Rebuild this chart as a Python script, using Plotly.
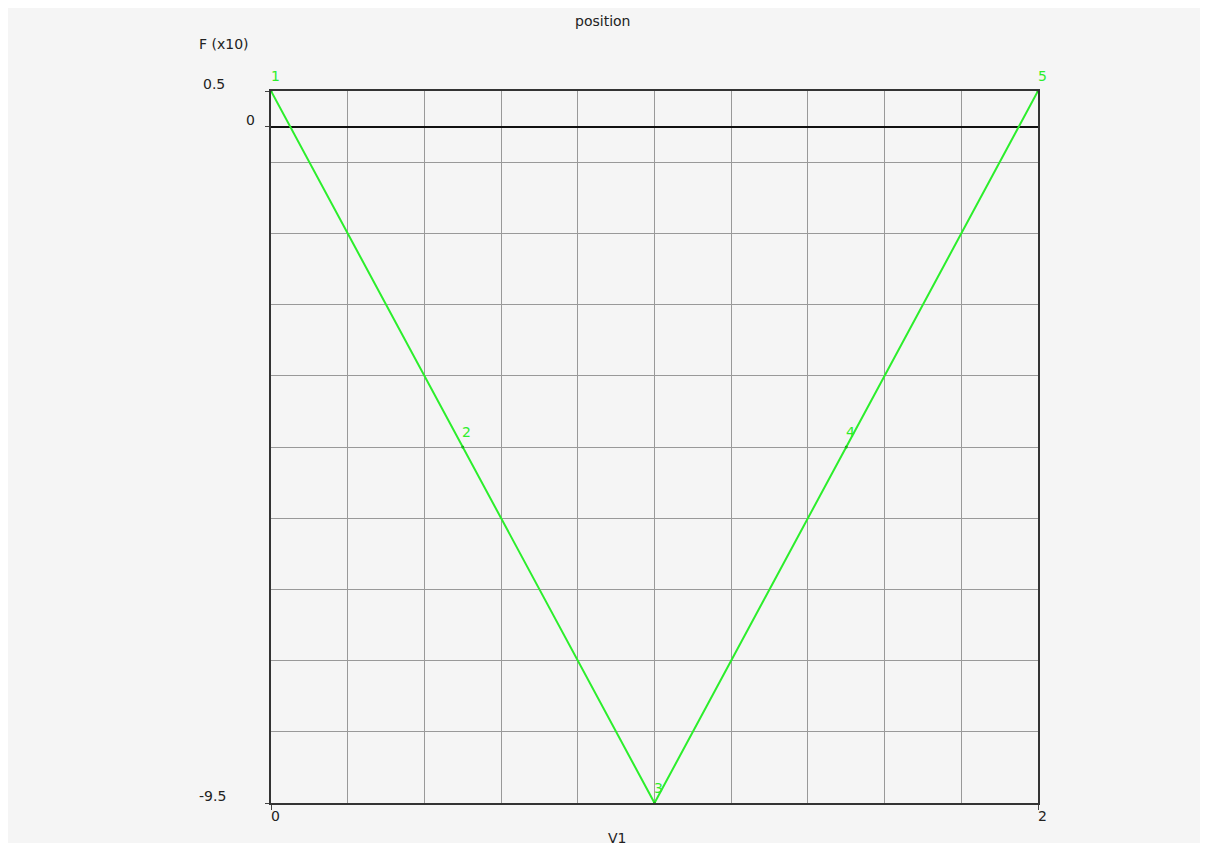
import plotly.graph_objects as go

# points of the "position" curve
v1 = [0, 0.5, 1, 1.5, 2]
force = [0.5, -4.5, -9.5, -4.5, 0.5]
point_labels = ["1", "2", "3", "4", "5"]

y_tick_vals = [0.5, 0, -9.5]
y_tick_text = ["0.5", "0", "-9.5"]
x_tick_vals = [0, 2]
x_tick_text = ["0", "2"]

GREEN = "#2cee2c"
TEXT = "#222222"
BG = "#f5f5f5"
FONT = dict(color=TEXT, size=14, family="DejaVu Sans")

fig = go.Figure()

fig.add_trace(go.Scatter(
    x=v1, y=force,
    mode="lines+markers",
    line=dict(color=GREEN, width=2),
    marker=dict(color="#18b818", size=3),
    cliponaxis=False,
    showlegend=False,
))

annotations = []
# point numbers, slightly up and right of each point
for x, y, lab in zip(v1, force, point_labels):
    annotations.append(dict(
        x=x, y=y, xref="x", yref="y", text=lab, showarrow=False,
        xanchor="center", yanchor="middle", xshift=4, yshift=15,
        font=dict(color=GREEN, size=14, family="DejaVu Sans")))

# y tick labels (shifted up / left like the original)
shifts = {"0.5": -44, "0": -14, "-9.5": -43}
for val, txt in zip(y_tick_vals, y_tick_text):
    annotations.append(dict(
        x=0, y=val, xref="x", yref="y", text=txt, showarrow=False,
        xanchor="right", yanchor="middle", xshift=shifts[txt], yshift=7,
        font=FONT))
for val, txt in zip(x_tick_vals, x_tick_text):
    annotations.append(dict(
        x=val, y=-9.5, xref="x", yref="y", text=txt, showarrow=False,
        xanchor="center", yanchor="top", xshift=4, yshift=-3,
        font=FONT))

annotations += [
    dict(x=0.432, y=1.0, xref="paper", yref="paper", text="position",
         showarrow=False, xanchor="center", yanchor="bottom", yshift=60,
         font=FONT),
    dict(x=0, y=1.0, xref="paper", yref="paper", text="F (x10)",
         showarrow=False, xanchor="center", yanchor="bottom", xshift=-47, yshift=37,
         font=FONT),
    dict(x=0.451, y=0, xref="paper", yref="paper", text="V1",
         showarrow=False, xanchor="center", yanchor="top", yshift=-25,
         font=FONT),
]

fig.update_layout(
    width=1200, height=835,
    margin=dict(l=263, r=170, t=83, b=40),
    paper_bgcolor=BG,
    plot_bgcolor=BG,
    annotations=annotations,
    xaxis=dict(
        range=[0, 2], tickvals=x_tick_vals, showticklabels=False,
        ticks="outside", ticklen=5, tickcolor="#444",
        showgrid=False, zeroline=False,
        showline=True, linecolor="#333", linewidth=2, mirror=True,
        minor=dict(dtick=0.2, tick0=0, showgrid=True, gridcolor="#999999", gridwidth=1),
    ),
    yaxis=dict(
        range=[-9.5, 0.5], tickvals=y_tick_vals, showticklabels=False,
        ticks="outside", ticklen=4, tickcolor="#444",
        showgrid=False, zeroline=True, zerolinecolor="#111", zerolinewidth=1.5,
        showline=True, linecolor="#333", linewidth=2, mirror=True,
        minor=dict(dtick=1, tick0=0.5, showgrid=True, gridcolor="#999999", gridwidth=1),
    ),
)

fig.write_html("out.html")
